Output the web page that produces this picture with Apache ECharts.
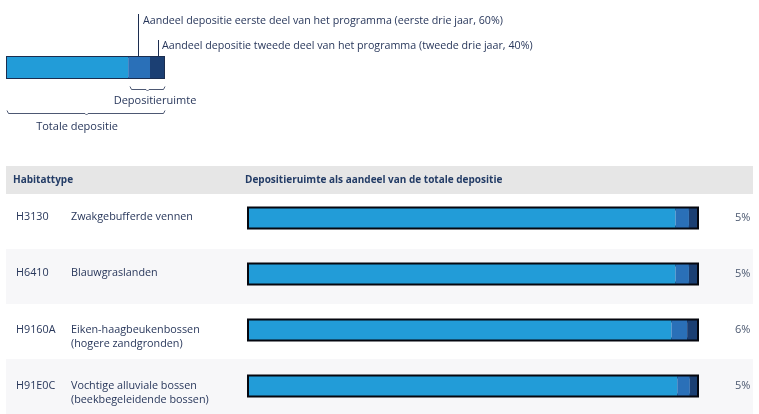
<!DOCTYPE html>
<html>
<head>
<meta charset="utf-8">
<script src="https://cdn.jsdelivr.net/npm/echarts@6/dist/echarts.min.js"></script>
<style>
  html, body { margin: 0; padding: 0; background: #fff; }
  #chart { width: 759px; height: 414px; }
</style>
</head>
<body>
<div id="chart"></div>
<script>
// habitat rows
var codes = ['H3130', 'H6410', 'H9160A', 'H91E0C'];
var names = ['Zwakgebufferde vennen', 'Blauwgraslanden', 'Eiken-haagbeukenbossen\n(hogere zandgronden)', 'Vochtige alluviale bossen\n(beekbegeleidende bossen)'];
// share of total deposition (%)
var restShare = [95.2, 95.2, 94.3, 95.6];
var firstShare = [3.0, 3.0, 3.5, 2.8];
var secondShare = [1.8, 1.8, 2.2, 1.6];
var pctLabels = ['5%', '5%', '6%', '5%'];
// legend example bar
var legendParts = [77.2, 13.9, 8.9];

var FONT = '"Open Sans", sans-serif';
var TXT = '#28375b';
var C_REST = '#229cd8', C_FIRST = '#2a70b8', C_SECOND = '#1b3f73';

var chart = echarts.init(document.getElementById('chart'));

var barSeries = function (name, data, color, bg) {
  var s = {
    name: name,
    type: 'bar',
    stack: 'dep',
    xAxisIndex: 0,
    yAxisIndex: 0,
    barWidth: 19,
    data: data,
    itemStyle: { color: color },
    silent: true
  };
  if (bg) {
    s.showBackground = true;
    s.backgroundStyle = { color: 'rgba(0,0,0,0)', borderColor: '#05070f', borderWidth: 4 };
  }
  return s;
};

var legendSeries = function (v, color, bg) {
  var s = {
    type: 'bar',
    stack: 'leg',
    xAxisIndex: 3,
    yAxisIndex: 5,
    barWidth: 21,
    data: [v],
    itemStyle: { color: color },
    silent: true
  };
  if (bg) {
    s.showBackground = true;
    s.backgroundStyle = { color: 'rgba(0,0,0,0)', borderColor: '#1b2d4f', borderWidth: 2 };
  }
  return s;
};

var catAxis = function (grid, extra) {
  var a = {
    type: 'category',
    gridIndex: grid,
    inverse: true,
    data: codes,
    axisLine: { show: false },
    axisTick: { show: false },
    axisLabel: { show: false },
    splitLine: { show: false }
  };
  for (var k in extra) a[k] = extra[k];
  return a;
};

var option = {
  animation: false,
  textStyle: { fontFamily: FONT },
  grid: [
    { left: 249, right: 62, top: 190, height: 226 },   // bars
    { left: 6, right: 6, top: 194, height: 226 },      // row bands
    { left: 249, right: 62, top: 181.5, height: 226 }, // row texts
    { left: 7, width: 157, top: 57, height: 21 }       // legend bar
  ],
  xAxis: [
    { type: 'value', gridIndex: 0, min: 0, max: 100, show: false },
    { type: 'value', gridIndex: 1, min: 0, max: 100, show: false },
    { type: 'value', gridIndex: 2, min: 0, max: 100, show: false },
    { type: 'value', gridIndex: 3, min: 0, max: 100, show: false }
  ],
  yAxis: [
    catAxis(0, { position: 'left' }),
    catAxis(0, {
      position: 'right',
      data: pctLabels,
      axisLabel: { show: true, interval: 0, align: 'left', margin: 38, color: '#4b5870', fontSize: 11, fontFamily: FONT }
    }),
    catAxis(1, {
      z: 0,
      splitArea: { show: true, interval: 0, areaStyle: { color: ['#ffffff', '#f7f7f9'] } }
    }),
    catAxis(2, {
      position: 'left',
      offset: 0,
      axisLabel: { show: true, interval: 0, align: 'left', verticalAlign: 'top', margin: 233, color: TXT, fontSize: 10.8, lineHeight: 14, fontFamily: FONT }
    }),
    catAxis(2, {
      position: 'left',
      offset: 0,
      data: names,
      axisLabel: { show: true, interval: 0, align: 'left', verticalAlign: 'top', margin: 178, color: TXT, fontSize: 10.8, lineHeight: 14, fontFamily: FONT }
    }),
    { type: 'category', gridIndex: 3, data: ['voorbeeld'], show: false }
  ],
  series: [
    barSeries('Overige depositie', restShare, C_REST, true),
    barSeries('Eerste deel programma', firstShare, C_FIRST),
    barSeries('Tweede deel programma', secondShare, C_SECOND),
    legendSeries(legendParts[0], C_REST, true),
    legendSeries(legendParts[1], C_FIRST),
    legendSeries(legendParts[2], C_SECOND)
  ],
  graphic: [
    // table header
    { type: 'rect', z: 1, shape: { x: 6, y: 166, width: 747, height: 28 }, style: { fill: '#e6e6e6' } },
    { type: 'text', z: 2, x: 13, y: 180, style: { text: 'Habitattype', font: 'bold 10px ' + FONT, fill: '#233c66', verticalAlign: 'middle' } },
    { type: 'text', z: 2, x: 245, y: 180, style: { text: 'Depositieruimte als aandeel van de totale depositie', font: 'bold 10px ' + FONT, fill: '#233c66', verticalAlign: 'middle' } },
    // legend call-outs
    { type: 'line', shape: { x1: 138.5, y1: 14, x2: 138.5, y2: 57 }, style: { stroke: '#1c2d50', lineWidth: 1 } },
    { type: 'text', x: 143, y: 21, style: { text: 'Aandeel depositie eerste deel van het programma (eerste drie jaar, 60%)', font: '10.7px ' + FONT, fill: TXT, verticalAlign: 'middle' } },
    { type: 'line', shape: { x1: 158.5, y1: 40, x2: 158.5, y2: 57 }, style: { stroke: '#1c2d50', lineWidth: 1 } },
    { type: 'text', x: 162, y: 46, style: { text: 'Aandeel depositie tweede deel van het programma (tweede drie jaar, 40%)', font: '10.7px ' + FONT, fill: TXT, verticalAlign: 'middle' } },
    // braces
    { type: 'polyline', shape: { points: [[130, 86.5], [131.5, 89.5], [146, 89.5], [147.5, 91], [149, 89.5], [163.5, 89.5], [165, 86.5]] }, style: { stroke: '#4d5873', lineWidth: 1, fill: null } },
    { type: 'text', x: 155, y: 101, style: { text: 'Depositieruimte', font: '11px ' + FONT, fill: TXT, align: 'center', verticalAlign: 'middle' } },
    { type: 'polyline', shape: { points: [[7, 110.5], [8.5, 113.5], [85, 113.5], [86.5, 115], [88, 113.5], [163.5, 113.5], [165, 110.5]] }, style: { stroke: '#4d5873', lineWidth: 1, fill: null } },
    { type: 'text', x: 77, y: 127, style: { text: 'Totale depositie', font: '11px ' + FONT, fill: TXT, align: 'center', verticalAlign: 'middle' } }
  ]
};

chart.setOption(option);
</script>
</body>
</html>
